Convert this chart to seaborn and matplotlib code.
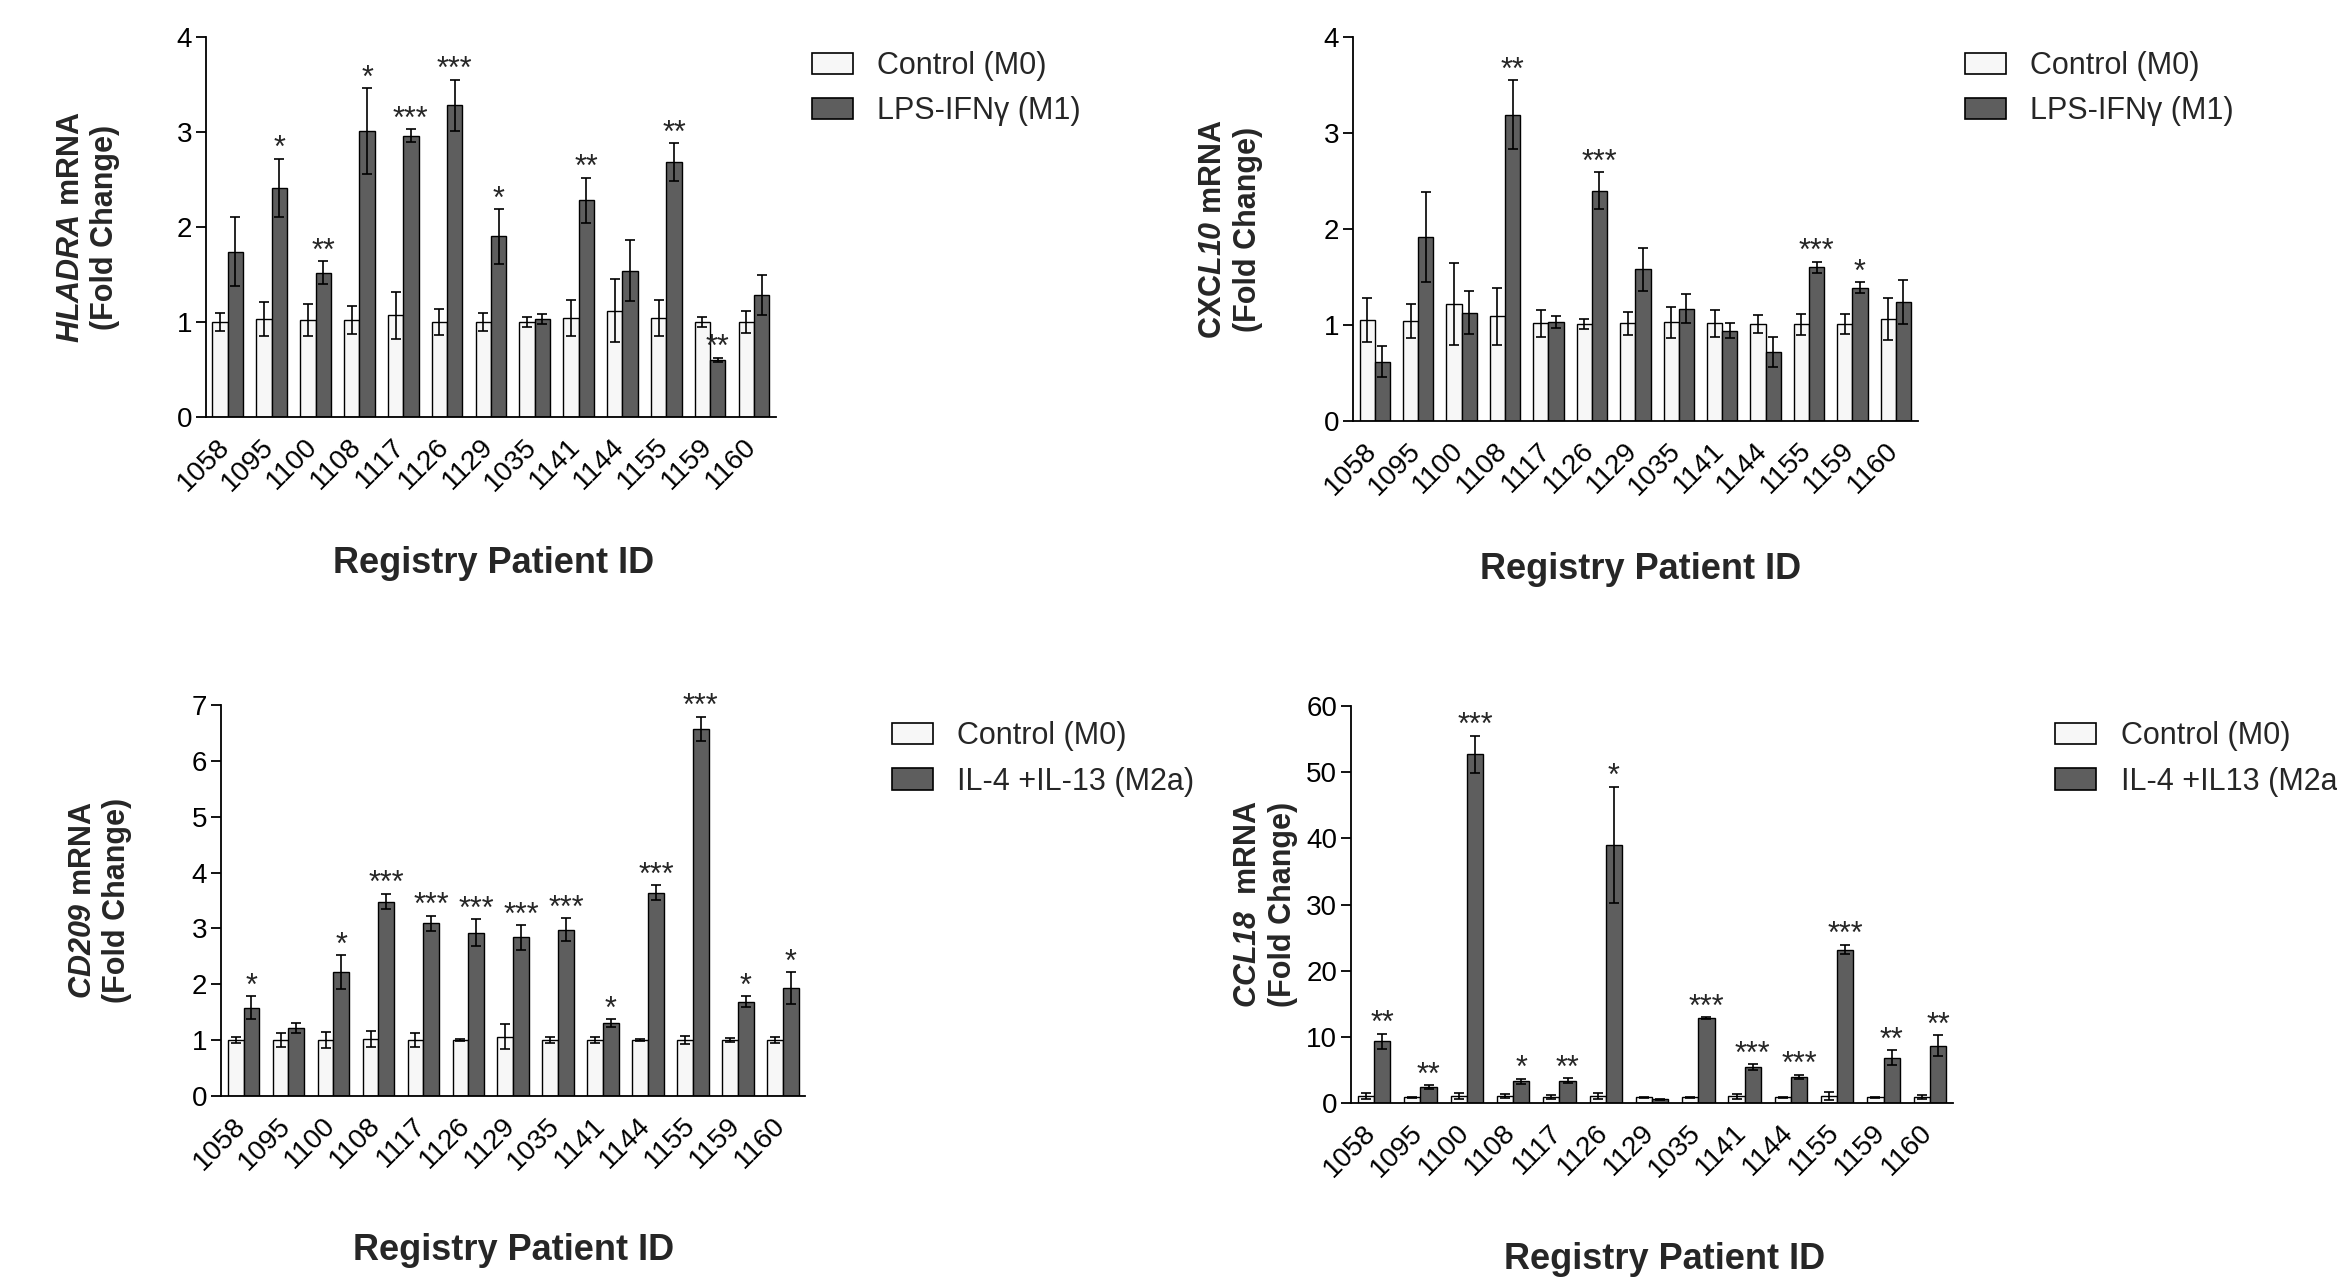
import pandas as pd
import seaborn as sns
import matplotlib.pyplot as plt
import matplotlib.transforms as mtransforms
from matplotlib.patches import Patch

patients = ['1058', '1095', '1100', '1108', '1117', '1126', '1129',
            '1035', '1141', '1144', '1155', '1159', '1160']

# HLADRA (M0 vs M1)
hladra_ctrl = [1.00, 1.03, 1.02, 1.02, 1.07, 1.00, 1.00, 1.00, 1.04, 1.12, 1.04, 1.00, 1.00]
hladra_ctrl_err = [0.09, 0.18, 0.17, 0.15, 0.25, 0.14, 0.09, 0.05, 0.19, 0.33, 0.19, 0.05, 0.12]
hladra_m1 = [1.74, 2.41, 1.52, 3.01, 2.96, 3.28, 1.90, 1.03, 2.28, 1.54, 2.68, 0.60, 1.28]
hladra_m1_err = [0.36, 0.31, 0.12, 0.45, 0.07, 0.27, 0.29, 0.05, 0.24, 0.32, 0.20, 0.025, 0.21]
hladra_stars = ['', '*', '**', '*', '***', '***', '*', '', '**', '', '**', '**', '']

# CXCL10 (M0 vs M1)
cxcl10_ctrl = [1.05, 1.04, 1.22, 1.09, 1.02, 1.01, 1.02, 1.03, 1.02, 1.01, 1.01, 1.01, 1.06]
cxcl10_ctrl_err = [0.23, 0.18, 0.43, 0.30, 0.14, 0.05, 0.12, 0.16, 0.14, 0.09, 0.11, 0.10, 0.22]
cxcl10_m1 = [0.62, 1.92, 1.13, 3.19, 1.03, 2.40, 1.58, 1.17, 0.94, 0.72, 1.60, 1.39, 1.24]
cxcl10_m1_err = [0.16, 0.47, 0.22, 0.36, 0.06, 0.19, 0.22, 0.15, 0.08, 0.16, 0.06, 0.06, 0.23]
cxcl10_stars = ['', '', '', '**', '', '***', '', '', '', '', '***', '*', '']

# CD209 (M0 vs M2a)
cd209_ctrl = [1.00, 1.00, 1.00, 1.02, 1.00, 1.00, 1.06, 1.00, 1.00, 1.00, 1.00, 1.00, 1.00]
cd209_ctrl_err = [0.06, 0.12, 0.15, 0.14, 0.12, 0.02, 0.22, 0.06, 0.06, 0.02, 0.07, 0.04, 0.05]
cd209_m2 = [1.58, 1.21, 2.22, 3.48, 3.09, 2.92, 2.84, 2.98, 1.30, 3.64, 6.57, 1.69, 1.93]
cd209_m2_err = [0.21, 0.09, 0.30, 0.14, 0.14, 0.24, 0.22, 0.20, 0.07, 0.13, 0.22, 0.10, 0.29]
cd209_stars = ['*', '', '*', '***', '***', '***', '***', '***', '*', '***', '***', '*', '*']

# CCL18 (M0 vs M2a)
ccl18_ctrl = [1.04, 0.87, 1.04, 1.00, 0.92, 1.04, 0.87, 0.87, 1.00, 0.87, 1.04, 0.87, 0.92]
ccl18_ctrl_err = [0.4, 0.1, 0.4, 0.3, 0.3, 0.4, 0.1, 0.1, 0.4, 0.1, 0.6, 0.1, 0.3]
ccl18_m2 = [9.35, 2.42, 52.7, 3.29, 3.40, 39.0, 0.58, 12.8, 5.42, 3.98, 23.2, 6.87, 8.66]
ccl18_m2_err = [1.15, 0.25, 2.8, 0.4, 0.35, 8.8, 0.05, 0.15, 0.45, 0.3, 0.75, 1.1, 1.55]
ccl18_stars = ['**', '**', '***', '*', '**', '*', '', '***', '***', '***', '***', '**', '**']

LIGHT = '#f7f7f7'
DARK = '#5e5e5e'

sns.set_theme(style='ticks')
plt.rcParams['font.family'] = ['Liberation Sans', 'DejaVu Sans']
plt.rcParams['mathtext.fontset'] = 'custom'
plt.rcParams['mathtext.bfit'] = 'Liberation Sans:italic:bold'
plt.rcParams['mathtext.it'] = 'Liberation Sans:italic'
plt.rcParams['mathtext.rm'] = 'Liberation Sans'


def panel(fig, rect, ctrl, ctrl_err, treat, treat_err, stars, conds, ylabel,
          ymax, ystep, ylabel_x, xlabel_xy, legend_xy):
    ax = fig.add_axes(rect)
    df = pd.DataFrame({
        'patient': patients * 2,
        'value': ctrl + treat,
        'condition': [conds[0]] * len(patients) + [conds[1]] * len(patients),
    })
    sns.barplot(data=df, x='patient', y='value', hue='condition', order=patients,
                hue_order=conds, palette=[LIGHT, DARK], saturation=1, width=0.7,
                gap=0, errorbar=None, edgecolor='black', linewidth=1.0,
                legend=False, ax=ax)

    for cont, errs in zip(ax.containers, [ctrl_err, treat_err]):
        xs = [b.get_x() + b.get_width() / 2 for b in cont]
        ys = [b.get_height() for b in cont]
        ax.errorbar(xs, ys, yerr=errs, fmt='none', ecolor='black',
                    elinewidth=1.2, capsize=3.5, capthick=1.2, zorder=3)

    for b, e, s in zip(ax.containers[1], treat_err, stars):
        if s:
            ax.annotate(s, (b.get_x() + b.get_width() / 2, b.get_height() + e),
                        xytext=(0, 1), textcoords='offset points',
                        ha='center', va='baseline', fontsize=22)

    ax.set_ylim(0, ymax)
    ax.set_xlim(-0.5, len(patients) - 0.5)
    ax.set_yticks(range(0, ymax + 1, ystep))
    sns.despine(ax=ax)
    for sp in ['left', 'bottom']:
        ax.spines[sp].set_linewidth(1.3)
        ax.spines[sp].set_color('black')
    ax.tick_params(axis='y', length=7, width=1.3, labelsize=20, pad=3,
                   colors='black')
    ax.tick_params(axis='x', length=0, labelsize=20, pad=12,
                   labelrotation=45, colors='black')
    shift = mtransforms.ScaledTranslation(-8 / 72, 0, fig.dpi_scale_trans)
    for lab in ax.get_xticklabels():
        lab.set_ha('right')
        lab.set_va('top')
        lab.set_rotation_mode('anchor')
        lab.set_transform(lab.get_transform() + shift)

    ax.set_ylabel(ylabel, fontsize=22, fontweight='bold', linespacing=1.2)
    ax.yaxis.set_label_coords(ylabel_x, 0.5)
    ax.set_xlabel('Registry Patient ID', fontsize=26, fontweight='bold')
    ax.xaxis.set_label_coords(*xlabel_xy)

    handles = [Patch(facecolor=LIGHT, edgecolor='black', linewidth=1.2),
               Patch(facecolor=DARK, edgecolor='black', linewidth=1.2)]
    ax.legend(handles, conds, loc='upper left', bbox_to_anchor=legend_xy,
              bbox_transform=fig.transFigure, frameon=False, fontsize=22,
              borderpad=0, borderaxespad=0, handlelength=1.34,
              handleheight=0.7, handletextpad=0.8, labelspacing=0.5)
    return ax


fig = plt.figure(figsize=(23.37, 12.79), dpi=100)

panel(fig, [0.0881, 0.6740, 0.2439, 0.2971], hladra_ctrl, hladra_ctrl_err,
      hladra_m1, hladra_m1_err, hladra_stars,
      ['Control (M0)', 'LPS-IFNγ (M1)'],
      r'$\mathbfit{HLADRA}$ mRNA' + '\n(Fold Change)',
      4, 1, -0.150, (0.505, -0.34), (0.3475, 0.960))

panel(fig, [0.5790, 0.6708, 0.2415, 0.3002], cxcl10_ctrl, cxcl10_ctrl_err,
      cxcl10_m1, cxcl10_m1_err, cxcl10_stars,
      ['Control (M0)', 'LPS-IFNγ (M1)'],
      r'CXC$\mathbfit{L10}$ mRNA' + '\n(Fold Change)',
      4, 1, -0.160, (0.51, -0.34), (0.8408, 0.960))

panel(fig, [0.0946, 0.1431, 0.2500, 0.3057], cd209_ctrl, cd209_ctrl_err,
      cd209_m2, cd209_m2_err, cd209_stars,
      ['Control (M0)', 'IL-4 +IL-13 (M2a)'],
      r'$\mathbfit{CD209}$ mRNA' + '\n(Fold Change)',
      7, 1, -0.152, (0.50, -0.35), (0.3817, 0.436))

panel(fig, [0.5781, 0.1376, 0.2576, 0.3104], ccl18_ctrl, ccl18_ctrl_err,
      ccl18_m2, ccl18_m2_err, ccl18_stars,
      ['Control (M0)', 'IL-4 +IL13 (M2a)'],
      r'$\mathbfit{CCL18}$  mRNA' + '\n(Fold Change)',
      60, 10, -0.088, (0.52, -0.35), (0.8795, 0.436))

fig.savefig('out.png', dpi=100)
